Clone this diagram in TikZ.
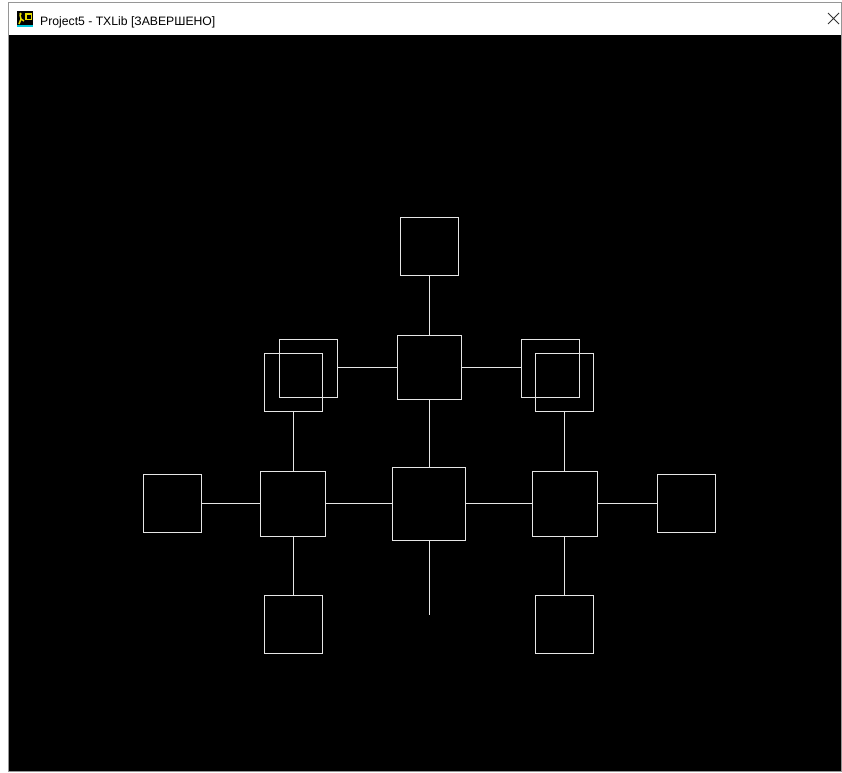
\documentclass[tikz,border=0pt]{standalone}
\usepackage{fontspec}
\setmainfont{Liberation Sans}
\definecolor{lineclr}{RGB}{230,230,230}
\definecolor{frameclr}{RGB}{150,150,150}
\definecolor{iconyel}{RGB}{230,220,0}
\definecolor{iconcyan}{RGB}{0,200,220}
\tikzset{
  sq/.style={draw=lineclr, line width=1pt, inner sep=0pt, rectangle,
             minimum width=#1, minimum height=#1},
  wire/.style={draw=lineclr, line width=1pt},
}
\begin{document}
\begin{tikzpicture}[x=1pt,y=-1pt]
\useasboundingbox (0,0) rectangle (842,772);
% window
\fill[white] (0,0) rectangle (842,772);
\draw[frameclr, line width=1pt, fill=white] (8.5,2.5) rectangle (841.5,771.5);
\fill[black] (9,35) rectangle (841,771);
% title bar icon
\fill[black] (17,11) rectangle (33,27);
\fill[iconyel] (25,13) rectangle (32,20);
\fill[black] (26.5,14.5) rectangle (30.5,18.5);
\draw[iconyel, line width=1.5pt] (19,24) -- (21,19) -- (24,21) (21,19) -- (20,15);
\fill[iconyel] (20.5,14) circle (1.3);
\fill[iconcyan] (17,24.5) rectangle (33,27);
\node[anchor=base west, inner sep=0pt, font=\fontsize{12.2}{14}\selectfont, text=black] (title) at (40,25) {Project5 - TXLib [ЗАВЕРШЕНО]};
\coordinate (xa) at (828,13);
\coordinate (xb) at (839,24);
\coordinate (xc) at (828,24);
\coordinate (xd) at (839,13);
\draw[black!80, line width=0.9pt] (xa) -- (xb) (xc) -- (xd);
% squares
\node[sq=58pt] (T)  at (429,246) {};
\node[sq=64pt] (UC) at (429,367.5) {};
\node[sq=58pt] (A)  at (308,368) {};
\node[sq=58pt] (B)  at (293,382) {};
\node[sq=58pt] (C)  at (550,368) {};
\node[sq=58pt] (D)  at (564,382) {};
\node[sq=73pt] (M)  at (429,503.5) {};
\node[sq=65pt] (LM) at (293,503.5) {};
\node[sq=65pt] (RM) at (565,503.5) {};
\node[sq=58pt] (L)  at (172,503.5) {};
\node[sq=58pt] (R)  at (686,503.5) {};
\node[sq=58pt] (BL) at (293,624) {};
\node[sq=58pt] (BR) at (564,624) {};
\coordinate (Mend) at (429,615);
% connectors
\draw[wire] (T.south) -- (UC.north);
\draw[wire] (UC.west) -- (UC.west -| A.east);
\draw[wire] (UC.east) -- (UC.east -| C.west);
\draw[wire] (UC.south) -- (M.north);
\draw[wire] (B.south) -- (B.south |- LM.north);
\draw[wire] (D.south) -- (D.south |- RM.north);
\draw[wire] (L.east) -- (LM.west);
\draw[wire] (LM.east) -- (M.west);
\draw[wire] (M.east) -- (RM.west);
\draw[wire] (RM.east) -- (R.west);
\draw[wire] (LM.south) -- (LM.south |- BL.north);
\draw[wire] (RM.south -| BR.north) -- (BR.north);
\draw[wire] (M.south) -- (Mend);
\end{tikzpicture}
\end{document}
